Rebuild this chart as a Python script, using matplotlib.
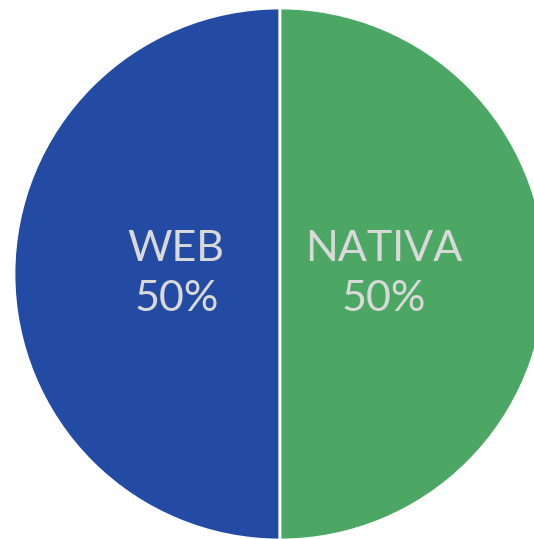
import matplotlib
matplotlib.use("Agg")
import matplotlib.pyplot as plt

categories = ["WEB", "NATIVA"]
shares = [50, 50]
colors = ["#244BA3", "#4CA764"]

plt.rcParams["font.family"] = ["Lato", "DejaVu Sans"]

fig = plt.figure(figsize=(5.34, 5.39), dpi=100)
ax = fig.add_axes([0, 0, 1, 1])

labels = [f"{c}\n{v}%" for c, v in zip(categories, shares)]
ax.pie(
    shares,
    labels=labels,
    colors=colors,
    startangle=90,
    center=(280, 265),
    radius=266,
    labeldistance=0.39,
    wedgeprops={"edgecolor": "white", "linewidth": 2},
    textprops={"color": "#D9D9D9", "fontsize": 31, "fontweight": "normal",
               "ha": "center", "va": "center", "multialignment": "center",
               "linespacing": 1.38},
    frame=True,
)
ax.set_xlim(0, 534)
ax.set_ylim(0, 539)
ax.axis("off")

fig.savefig("out.png", dpi=100)
